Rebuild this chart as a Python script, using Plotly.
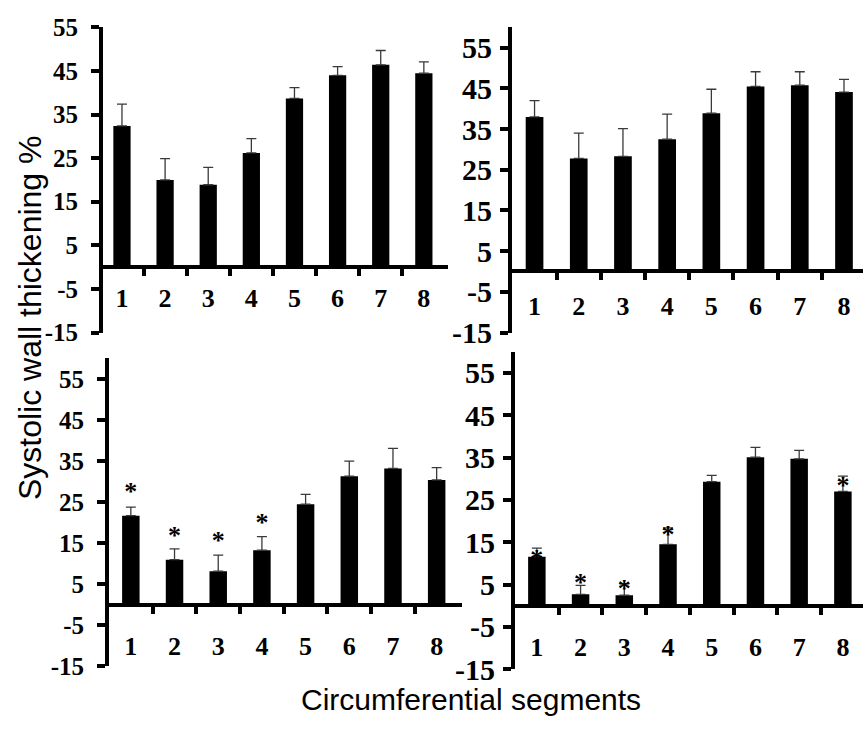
import plotly.graph_objects as go

W, H = 863, 740

segments = [1, 2, 3, 4, 5, 6, 7, 8]
seg_labels = ["1", "2", "3", "4", "5", "6", "7", "8"]
y_tick_vals = [-15, -5, 5, 15, 25, 35, 45, 55]
y_tick_text = ["-15", "-5", "5", "15", "25", "35", "45", "55"]
divider_ticks = [1.5, 2.5, 3.5, 4.5, 5.5, 6.5, 7.5]

# top-left panel
tl_mean = [32.4, 20.0, 18.9, 26.2, 38.7, 44.0, 46.4, 44.5]
tl_err = [5.0, 4.9, 4.0, 3.3, 2.5, 2.0, 3.3, 2.6]
# top-right panel
tr_mean = [38.0, 27.8, 28.3, 32.5, 38.9, 45.5, 45.8, 44.1]
tr_err = [4.0, 6.2, 6.8, 6.2, 5.9, 3.6, 3.3, 3.1]
# bottom-left panel
bl_mean = [21.7, 11.0, 8.2, 13.3, 24.5, 31.3, 33.2, 30.4]
bl_err = [2.1, 2.6, 3.9, 3.3, 2.4, 3.7, 4.9, 3.0]
bl_star_x = [1, 2, 3, 4]
bl_star_y = [27.0, 16.4, 15.1, 19.5]
# bottom-right panel
br_mean = [11.6, 2.7, 2.5, 14.5, 29.3, 35.1, 34.7, 27.0]
br_err = [2.0, 2.1, 2.7, 3.9, 1.5, 2.3, 2.0, 3.6]
br_star_x = [1, 2, 3, 4, 8]
br_star_y = [10.6, 5.1, 3.6, 16.4, 28.0]

# panel geometry in pixels: (x_left, x_right), (y_bottom, y_top), x range, y range, label settings
panels = [
    dict(mean=tl_mean, err=tl_err, sx=[], sy=[], px=(103, 448), py=(333, 15),
         xr=[0.56, 8.56], yr=[-15, 55], yfs=25, ystand=8, xstand=7),
    dict(mean=tr_mean, err=tr_err, sx=[], sy=[], px=(512, 863), py=(333, 15),
         xr=[0.49, 8.43], yr=[-15, 60], yfs=30, ystand=2, xstand=10),
    dict(mean=bl_mean, err=bl_err, sx=bl_star_x, sy=bl_star_y, px=(109, 462), py=(681, 360),
         xr=[0.5, 8.58], yr=[-15, 60], yfs=25, ystand=8, xstand=17),
    dict(mean=br_mean, err=br_err, sx=br_star_x, sy=br_star_y, px=(515, 863), py=(684, 353),
         xr=[0.5, 8.46], yr=[-15, 60], yfs=30, ystand=2, xstand=17),
]

fig = go.Figure()
layout = dict(width=W, height=H, margin=dict(l=0, r=0, t=0, b=0),
              paper_bgcolor="white", plot_bgcolor="white", showlegend=False)


def serif_bold(s):
    return dict(family="Liberation Serif", size=s, color="black", weight="bold")


for i, p in enumerate(panels, start=1):
    xs = "" if i == 1 else str(i)
    xd = [p["px"][0] / W, p["px"][1] / W]
    yd = [1 - p["py"][0] / H, 1 - p["py"][1] / H]
    y0, y1 = p["yr"]
    zero_pos = yd[0] + (0 - y0) / (y1 - y0) * (yd[1] - yd[0])
    fig.add_trace(go.Bar(
        x=segments, y=p["mean"], width=0.4,
        marker=dict(color="black", line=dict(width=0)),
        error_y=dict(type="data", array=p["err"], arrayminus=[0] * 8, symmetric=False,
                     color="#3a3a3a", thickness=1.3, width=5),
        xaxis="x" + xs, yaxis="y" + xs))
    if p["sx"]:
        fig.add_trace(go.Scatter(
            x=p["sx"], y=p["sy"], mode="text", text=["*"] * len(p["sx"]),
            textfont=dict(family="Liberation Serif", size=26, color="black", weight="bold"),
            xaxis="x" + xs, yaxis="y" + xs))
    layout["xaxis" + xs] = dict(
        domain=xd, range=p["xr"], anchor="free", position=zero_pos,
        showline=True, linewidth=4, linecolor="black",
        tickmode="array", tickvals=segments, ticktext=seg_labels, ticks="",
        tickfont=serif_bold(26), ticklabelstandoff=p["xstand"],
        minor=dict(tickmode="array", tickvals=divider_ticks, ticks="outside",
                   ticklen=7, tickwidth=4, tickcolor="black"),
        showgrid=False, zeroline=False, fixedrange=True)
    layout["yaxis" + xs] = dict(
        domain=yd, range=p["yr"], anchor="x" + xs, side="left",
        showline=True, linewidth=4, linecolor="black",
        tickmode="array", tickvals=y_tick_vals, ticktext=y_tick_text,
        ticks="outside", ticklen=8, tickwidth=4, tickcolor="black",
        tickfont=serif_bold(p["yfs"]), ticklabelstandoff=p["ystand"],
        showgrid=False, zeroline=False, fixedrange=True)

layout["annotations"] = [
    dict(text="Systolic wall thickening %", xref="paper", yref="paper",
         x=30 / W, y=1 - 318 / H, xanchor="center", yanchor="middle",
         textangle=-90, showarrow=False,
         font=dict(family="Liberation Sans", size=32, color="black")),
    dict(text="Circumferential segments", xref="paper", yref="paper",
         x=471 / W, y=1 - 716 / H, xanchor="center", yanchor="middle",
         showarrow=False,
         font=dict(family="Liberation Sans", size=30, color="black")),
]
fig.update_layout(**layout)
fig.write_html("out.html")
